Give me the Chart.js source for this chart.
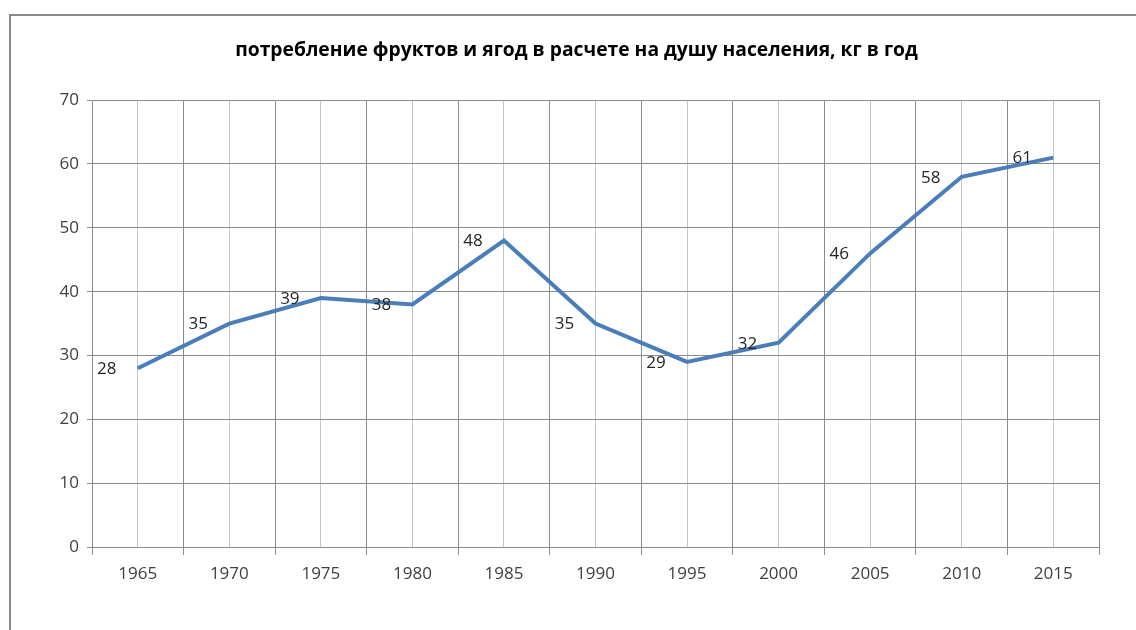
<!DOCTYPE html>
<html lang="ru">
<head>
<meta charset="utf-8">
<title>потребление фруктов и ягод</title>
<script src="https://cdn.jsdelivr.net/npm/chart.js@4.4.1/dist/chart.umd.min.js"></script>
<style>
    html, body { margin: 0; padding: 0; background: #fff; overflow: hidden; }
    #wrap { position: relative; width: 1136px; height: 630px; }
    #frame {
        position: absolute; left: 9px; top: 14px; width: 1200px; height: 700px;
        border-left: 2px solid #8a8a8a; border-top: 2px solid #8a8a8a;
        pointer-events: none;
    }
</style>
</head>
<body>
<div id="wrap">
    <canvas id="fruitChart" width="1136" height="630"></canvas>
    <div id="frame"></div>
</div>
<script>
// Data
const chartTitle = 'потребление фруктов и ягод в расчете на душу населения, кг в год';
const years = [1965, 1970, 1975, 1980, 1985, 1990, 1995, 2000, 2005, 2010, 2015];
const consumption = [28, 35, 39, 38, 48, 35, 29, 32, 46, 58, 61];
const yTicks = [0, 10, 20, 30, 40, 50, 60, 70];

const textColor = '#404040';
const majorGrid = '#8c8c8c';
const minorGrid = '#c4c4c4';

// value labels, placed left of each point like the original
const pointLabels = {
    id: 'pointLabels',
    afterDatasetsDraw(chart) {
        const ctx = chart.ctx;
        const meta = chart.getDatasetMeta(0);
        ctx.save();
        ctx.font = '17px "Open Sans", sans-serif';
        ctx.fillStyle = '#262626';
        ctx.textAlign = 'center';
        ctx.textBaseline = 'middle';
        meta.data.forEach((pt, i) => {
            ctx.fillText(String(consumption[i]), pt.x - 31, pt.y + 1);
        });
        ctx.restore();
    }
};

const ctx = document.getElementById('fruitChart').getContext('2d');
new Chart(ctx, {
    type: 'line',
    data: {
        datasets: [{
            data: years.map((y, i) => ({ x: y, y: consumption[i] })),
            borderColor: '#4a7ebb',
            borderWidth: 4,
            pointRadius: 0,
            tension: 0,
            fill: false
        }]
    },
    options: {
        responsive: false,
        animation: false,
        layout: { padding: { left: 54, right: 37, top: 0, bottom: 0 } },
        plugins: {
            legend: { display: false },
            tooltip: { enabled: false },
            title: {
                display: true,
                text: chartTitle,
                color: '#000',
                font: { family: '"Open Sans", sans-serif', size: 19.3, weight: 'bold' },
                padding: { top: 39, bottom: 38 }
            }
        },
        scales: {
            x: {
                type: 'linear',
                min: years[0] - 2.5,
                max: years[years.length - 1] + 2.5,
                afterFit: s => { s.height = 83; },
                border: { display: true, color: majorGrid, width: 1 },
                grid: {
                    drawOnChartArea: true,
                    color: c => ((c.tick.value - (years[0] - 2.5)) % 5 === 0 ? majorGrid : minorGrid),
                    tickColor: c => ((c.tick.value - (years[0] - 2.5)) % 5 === 0 ? majorGrid : 'rgba(0,0,0,0)'),
                    tickLength: 8
                },
                ticks: {
                    stepSize: 2.5,
                    autoSkip: false,
                    maxRotation: 0,
                    color: textColor,
                    padding: 9,
                    font: { family: '"Open Sans", sans-serif', size: 17 },
                    callback: v => (years.includes(v) ? String(v) : '')
                }
            },
            y: {
                min: yTicks[0],
                max: yTicks[yTicks.length - 1],
                afterFit: s => { s.width = 38; },
                border: { display: true, color: majorGrid, width: 1 },
                grid: { color: majorGrid, tickColor: majorGrid, tickLength: 5 },
                ticks: {
                    stepSize: 10,
                    color: textColor,
                    padding: 8,
                    font: { family: '"Open Sans", sans-serif', size: 17 }
                }
            }
        }
    },
    plugins: [pointLabels]
});
</script>
</body>
</html>
